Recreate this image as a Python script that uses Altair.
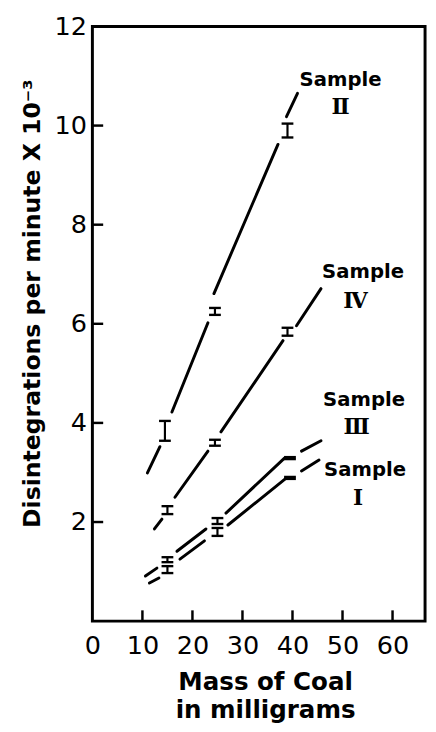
import altair as alt
import pandas as pd

# ---- data ----
# straight-line pieces of each sample's fitted line (broken at the error bars)
seg_sample = ["II", "II", "II", "II",
              "IV", "IV", "IV", "IV",
              "III", "III", "III", "III",
              "I", "I", "I", "I"]
seg_x1 = [11.0, 15.9, 24.3, 38.8,
          12.4, 16.5, 25.7, 40.8,
          10.6, 16.9, 26.7, 41.8,
          11.4, 17.5, 27.1, 41.8]
seg_y1 = [2.99, 4.22, 6.61, 10.18,
          1.86, 2.50, 3.82, 5.96,
          0.91, 1.41, 2.18, 3.43,
          0.77, 1.25, 1.94, 3.03]
seg_x2 = [13.5, 23.1, 37.1, 41.0,
          13.9, 23.1, 38.1, 45.7,
          12.9, 22.7, 38.4, 45.7,
          13.3, 22.4, 38.8, 45.3]
seg_y2 = [3.52, 6.02, 9.62, 10.65,
          2.06, 3.43, 5.66, 6.71,
          1.07, 1.86, 3.29, 3.64,
          0.87, 1.62, 2.89, 3.25]

# measured points with error bars
pt_sample = ["II", "II", "II", "IV", "IV", "IV", "III", "III", "III", "I", "I", "I"]
pt_mass = [14.5, 24.5, 39.0, 15.0, 24.5, 39.0, 15.0, 25.0, 39.5, 15.0, 25.0, 39.5]
pt_lo = [3.64, 6.18, 9.76, 2.16, 3.54, 5.76, 1.19, 1.96, 3.27, 0.97, 1.72, 2.87]
pt_hi = [4.04, 6.32, 10.04, 2.32, 3.66, 5.92, 1.29, 2.08, 3.31, 1.11, 1.88, 2.91]

# curve labels
lab_text = ["Sample", "Ⅱ", "Sample", "Ⅳ", "Sample", "Ⅲ", "Sample", "Ⅰ"]
lab_x = [49.6, 49.6, 54.1, 52.6, 54.3, 52.8, 54.5, 53.1]
lab_y = [10.92, 10.38, 7.05, 6.46, 4.46, 3.92, 3.05, 2.49]
lab_kind = ["word", "num", "word", "num", "word", "num", "word", "num"]

x_ticks = [10, 20, 30, 40, 50, 60]
x_labels = [0, 10, 20, 30, 40, 50, 60]
y_ticks = [2, 4, 6, 8, 10]
y_labels = [2, 4, 6, 8, 10, 12]

segs = pd.DataFrame({"sample": seg_sample, "x1": seg_x1, "y1": seg_y1,
                     "x2": seg_x2, "y2": seg_y2})
pts = pd.DataFrame({"sample": pt_sample, "mass": pt_mass, "lo": pt_lo, "hi": pt_hi})
caps = pd.concat([
    pd.DataFrame({"mass": pt_mass, "val": pt_lo}),
    pd.DataFrame({"mass": pt_mass, "val": pt_hi}),
], ignore_index=True)
labs = pd.DataFrame({"text": lab_text, "x": lab_x, "y": lab_y, "kind": lab_kind})
xt = pd.DataFrame({"t": x_ticks})
yt = pd.DataFrame({"t": y_ticks})

W, H = 339, 606
xs = alt.Scale(domain=[0, 66.5], nice=False, zero=False)
ys = alt.Scale(domain=[0, 12], nice=False, zero=False)

x_axis = alt.Axis(values=x_labels, ticks=False, tickSize=0, domain=False, grid=False,
                  labelFontSize=26, labelFont="DejaVu Sans", labelColor="black",
                  labelPadding=12, labelFlush=False,
                  title=["Mass of Coal", "in milligrams"],
                  titleFontSize=25, titleFont="DejaVu Sans", titleFontWeight="bold",
                  titleColor="black", titleLineHeight=28,
                  titleX=176, titleY=70, titleBaseline="alphabetic", titleAlign="center")
y_axis = alt.Axis(values=y_labels, ticks=False, tickSize=0, domain=False, grid=False,
                  labelFontSize=26, labelFont="DejaVu Sans", labelColor="black",
                  labelPadding=6, labelFlush=False,
                  title="Disintegrations per minute X 10⁻³",
                  titleFontSize=24, titleFont="DejaVu Sans", titleFontWeight="bold",
                  titleColor="black", titleAngle=270, titleAlign="center",
                  titleBaseline="alphabetic", titleX=-54, titleY=282)

lines = alt.Chart(segs).mark_rule(color="black", strokeWidth=3, strokeCap="round").encode(
    x=alt.X("x1:Q", scale=xs, axis=x_axis),
    y=alt.Y("y1:Q", scale=ys, axis=y_axis),
    x2="x2:Q", y2="y2:Q",
)

bars = alt.Chart(pts).mark_rule(color="black", strokeWidth=2.2).encode(
    x=alt.X("mass:Q", scale=xs), y=alt.Y("lo:Q", scale=ys), y2="hi:Q"
)

cap_marks = alt.Chart(caps).mark_rule(color="black", strokeWidth=2.4,
                                      xOffset=-6, x2Offset=6).encode(
    x=alt.X("mass:Q", scale=xs), x2="mass:Q", y=alt.Y("val:Q", scale=ys)
)

xtick_marks = alt.Chart(xt).mark_rule(color="black", strokeWidth=2.5, y2Offset=-11).encode(
    x=alt.X("t:Q", scale=xs), y=alt.datum(0), y2=alt.datum(0)
)
ytick_marks = alt.Chart(yt).mark_rule(color="black", strokeWidth=2.5, x2Offset=11).encode(
    y=alt.Y("t:Q", scale=ys), x=alt.datum(0), x2=alt.datum(0)
)

words = alt.Chart(labs).transform_filter(alt.datum.kind == "word").mark_text(
    font="DejaVu Sans", fontWeight="bold", fontSize=20, color="black",
    align="center", baseline="middle").encode(
    x=alt.X("x:Q", scale=xs), y=alt.Y("y:Q", scale=ys), text="text:N")

nums = alt.Chart(labs).transform_filter(alt.datum.kind == "num").mark_text(
    font="DejaVu Serif", fontWeight="bold", fontSize=22, color="black",
    align="center", baseline="middle").encode(
    x=alt.X("x:Q", scale=xs), y=alt.Y("y:Q", scale=ys), text="text:N")

chart = alt.layer(lines, bars, cap_marks, xtick_marks, ytick_marks, words, nums).properties(
    width=W, height=H,
    autosize=alt.AutoSizeParams(type="none"),
    padding={"left": 86, "top": 12, "right": 3, "bottom": 98},
    background="white",
).configure_view(stroke="black", strokeWidth=3)

chart.save("out.html", embed_options={"renderer": "svg", "actions": False})
